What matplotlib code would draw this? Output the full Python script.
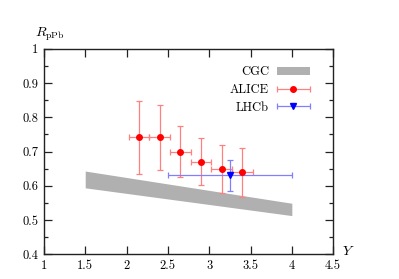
import numpy as np
import matplotlib.pyplot as plt
from matplotlib.legend_handler import HandlerErrorbar

plt.rcParams['font.family'] = 'serif'
plt.rcParams['font.serif'] = ['cmr10']
plt.rcParams['mathtext.fontset'] = 'cm'
plt.rcParams['axes.formatter.use_mathtext'] = True

# CGC band (edges)
cgc_y = [1.5, 4.0]
cgc_lo = [0.594, 0.513]
cgc_hi = [0.643, 0.549]

# ALICE data
alice_y = [2.15, 2.40, 2.65, 2.90, 3.15, 3.40]
alice_r = [0.741, 0.741, 0.700, 0.670, 0.650, 0.639]
alice_up = [0.846, 0.835, 0.773, 0.738, 0.718, 0.709]
alice_dn = [0.633, 0.646, 0.625, 0.601, 0.580, 0.568]
alice_xerr = 0.125

# LHCb data
lhcb_y = [3.25]
lhcb_r = [0.631]
lhcb_up = [0.674]
lhcb_dn = [0.586]
lhcb_xlo = [2.5]
lhcb_xhi = [4.0]

xticks = [1, 1.5, 2, 2.5, 3, 3.5, 4, 4.5]
xlabels = ['1', '1.5', '2', '2.5', '3', '3.5', '4', '4.5']
yticks = [0.4, 0.5, 0.6, 0.7, 0.8, 0.9, 1.0]
ylabels = ['0.4', '0.5', '0.6', '0.7', '0.8', '0.9', '1']

fig = plt.figure(figsize=(3.99, 2.79), dpi=100)
ax = fig.add_axes([0.110, 0.0885, 0.725, 0.7369])

band = ax.fill_between(cgc_y, cgc_lo, cgc_hi, color='#b0b0b0', lw=0)

a_r = np.array(alice_r)
ax.errorbar(alice_y, alice_r, xerr=alice_xerr,
            yerr=[a_r - np.array(alice_dn), np.array(alice_up) - a_r],
            fmt='o', color='red', ms=4, ecolor='#ff8080', elinewidth=0.9,
            capsize=2, capthick=0.9)

l_r = np.array(lhcb_r)
l_y = np.array(lhcb_y)
ax.errorbar(lhcb_y, lhcb_r,
            xerr=[l_y - np.array(lhcb_xlo), np.array(lhcb_xhi) - l_y],
            yerr=[l_r - np.array(lhcb_dn), np.array(lhcb_up) - l_r],
            fmt='v', color='blue', ms=4, ecolor='#8080ff', elinewidth=0.9,
            capsize=2, capthick=0.9)

# legend-only handles (horizontal bars only)
h_alice = ax.errorbar([np.nan], [np.nan], xerr=[1], fmt='o', color='red', ms=4,
                      ecolor='#ff8080', elinewidth=0.9, capsize=2, capthick=0.9)
h_lhcb = ax.errorbar([np.nan], [np.nan], xerr=[1], fmt='v', color='blue', ms=4,
                     ecolor='#8080ff', elinewidth=0.9, capsize=2, capthick=0.9)

ax.set_xlim(1, 4.5)
ax.set_ylim(0.4, 1.0)
ax.set_xticks(xticks)
ax.set_xticklabels(xlabels)
ax.set_yticks(yticks)
ax.set_yticklabels(ylabels)
ax.set_yticks(np.arange(0.45, 1.0, 0.1), minor=True)
ax.tick_params(which='both', direction='in', top=True, right=True,
               labelsize=9, width=0.9, color='#222222', pad=4)
ax.tick_params(which='major', length=6)
ax.tick_params(which='minor', length=3)
for s in ax.spines.values():
    s.set_linewidth(1.0)
    s.set_color('#222222')

ax.text(-0.03, 1.03, r'$R_{\rm pPb}$', transform=ax.transAxes, fontsize=10,
        ha='left', va='bottom')
ax.text(1.03, -0.005, r'$Y$', transform=ax.transAxes, fontsize=10,
        ha='left', va='baseline')

ax.legend([band, h_alice, h_lhcb], ['CGC', 'ALICE', 'LHCb'],
          loc='upper right', bbox_to_anchor=(0.96, 0.97), frameon=False,
          markerfirst=False, fontsize=9, handlelength=2.7,
          labelspacing=0.45, handletextpad=0.6,
          handler_map={type(h_alice): HandlerErrorbar(xerr_size=1.3)})

fig.savefig('out.png', dpi=100)
